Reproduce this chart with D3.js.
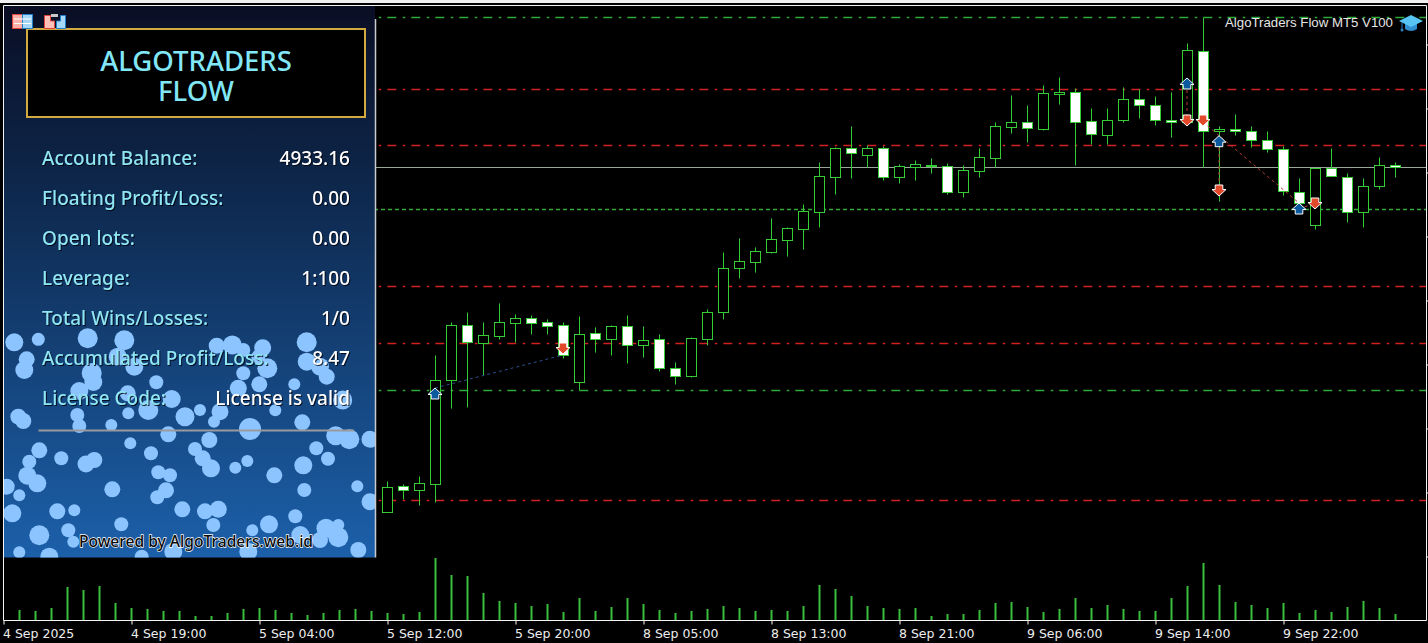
<!DOCTYPE html>
<html><head><meta charset="utf-8">
<script src="https://cdnjs.cloudflare.com/ajax/libs/d3/7.9.0/d3.min.js"></script>
<style>html,body{margin:0;padding:0;background:#000;overflow:hidden}svg{display:block}</style>
</head><body><div id="c"></div>
<script>
// ---------- data ----------
const firstCandle = 23; // earlier candles sit behind the panel
const opens  = [88.3,113.7,110.3,116.3,220.3,274.7,257.3,264.3,277.3,281.7,277.7,274.7,218.3,266.7,261.3,273.7,255.3,260.7,231.7,224.3,261.3,287.7,332.3,338.3,348.3,360.3,371.3,388.3,423.3,451.7,445.3,451.7,423.3,432.7,434.5,433.7,408.3,429.3,442.3,473.3,477.7,471.3,505.7,507.7,478.7,465.3,480.3,500.7,494.7,479.7,478,548.7,468.7,470.7,468.7,459.7,450.7,407.7,374.7,431.7,423.3,387.7,413.7,434.7];
const highs  = [119,116,124,245,277.7,287.7,277.7,296.7,286,285,280.7,277.7,283.7,272.7,275,284.7,273.7,265.7,237.7,262.7,290.7,347.7,361.7,352.7,381.7,373,395.7,437.7,452.7,473.7,455.3,454,435.7,439.7,441.7,436.7,434.7,451.7,477.7,504.7,494.7,515,522.7,511.7,491.7,491.7,512.7,510.7,503.7,507.7,556.7,582.7,473.7,485.7,473.7,468.7,453.7,421.7,431.7,451.7,427.3,421.7,442.7,437.7];
const lows   = [88.3,101,95,98.3,192.3,193.3,225,261,258.3,266.3,266.3,242.3,209.7,248.3,245.3,237.3,243.3,229.3,216.3,223.3,255.3,281,322.3,328.3,347.3,344.3,351.3,373.3,406.3,422.3,432.7,420.3,417.3,420.3,427.3,406.3,403.3,423.3,432.7,467.3,458.3,470.3,496.3,435.3,455.7,455.7,478.3,482.3,475.3,463.3,475,433.3,398.7,464.7,453.3,447.7,404.7,390,370.7,423.7,377.7,373.3,410.7,422.7];
const closes = [112.7,110.3,116.7,219.7,274.7,258.3,264.7,277.7,281.7,277.3,274.3,244.7,265.7,261.3,273.7,255.3,259.7,232.3,224.3,261.7,287.7,331.7,338.7,348.7,360.7,371.7,388.7,423.7,451.7,446.7,451.7,423.3,433.7,435.7,435.5,408.3,429.7,442.7,473.7,477.7,471.7,506.7,507.7,477.7,465.7,479.7,500.7,494.7,479.7,477.7,549.7,468.7,470.7,468.7,459.7,450.7,408.7,396.7,431.7,423.7,387.7,413.7,434.7,433];
const volumes = [10,9,12,33,30,34,17,12,11,9,9,4,4,7,11,12,10,7,5,7,10,11,9,7,6,8,62,45,44,27,19,17,14,16,8,22,9,13,22,16,10,7,9,11,14,12,9,10,9,14,35,31,24,14,12,11,12,4,6,6,10,17,18,13,8,11,22,12,15,11,9,9,22,34,57,35,18,15,12,17,7,10,8,13,19,12,6];
const levelPrices = [583,511,455.5,314,257,210,100];
const levelKinds  = ["g","r","r","r","r","g","r"];
const lastPrice = 433;
const stopPrice = 391;
const tickIndex  = [-1,7,15,23,31,39,47,55,63,71,79];
const tickLabels = ["4 Sep 2025","4 Sep 19:00","5 Sep 04:00","5 Sep 12:00","5 Sep 20:00","8 Sep 05:00","8 Sep 13:00","8 Sep 21:00","9 Sep 06:00","9 Sep 14:00","9 Sep 22:00"];
const priceTicks = [556,492,428,364,300,236,172,108,44];
const buyIndex  = [26,73,75,80];
const buyPrice  = [206,516,458.3,391];
const sellIndex = [34,73,74,75,81];
const sellPrice = [252,480,480,410,397];
const tradeFrom = [[26,212,"b"],[73,516,"r"],[74,478,"r"],[75,458,"r"],[80,391,"r"]];
const tradeTo   = [[34,245],[73,480],[80,397],[75,410],[81,397]];
const panelLabels = ["Account Balance:","Floating Profit/Loss:","Open lots:","Leverage:","Total Wins/Losses:","Accumulated Profit/Loss:","License Code:"];
const panelValues = ["4933.16","0.00","0.00","1:100","1/0","8.47","License is valid"];
const bubbles = [[14.3,342.3,9],[38.3,339.3,6.5],[87.7,338.3,10],[124.3,340.3,10],[26.7,359.3,8],[24.3,370,9],[91.7,373,10],[93.3,382,9],[134.3,366.7,9],[117.7,356.7,9],[156.3,382.3,7],[79.3,391,9],[127.7,393.3,8],[171.7,399,9],[148.3,410,10],[18.3,416.7,8],[23.3,421,8],[77.3,415,7],[128.3,413.3,6],[79.3,426,7],[111.3,425,6],[185,416.7,9.5],[168.3,434.3,8],[130.3,443.3,6],[39.3,450.3,8],[151,453.3,7],[61.3,458.3,7],[94.3,460,8],[86,464,8.5],[29.3,461.7,7],[27.3,475.7,9],[37.3,483.3,9],[158.3,472.3,7],[170,475.3,7],[6.7,486.7,8],[19.3,495.3,6],[112.3,489.3,8],[166,490.3,8],[157.3,497.3,7],[12.3,513.3,9],[57.3,511.3,8],[74.3,510.3,6],[182.3,509.3,8],[121.3,524.3,7],[68.3,530.3,7],[39.3,535.3,10],[73.3,541.7,6],[19.3,552.3,6],[49.3,556.7,9],[141.7,556.7,7],[173.3,551.7,9],[216.7,345.7,8],[232.3,345,9.5],[243.3,350,7],[262.7,347.7,8.5],[258.3,356.7,7],[267.3,368.3,10],[306.7,342.3,10],[306.7,361.7,9],[320,366.7,9],[326.7,376.7,8],[243.3,373.3,7],[259.3,384.3,8],[294.3,384.3,6],[238.3,388.3,8.5],[200,410,6],[342.7,400,9.5],[220,411.7,8.5],[214,421.7,6],[275.3,410.3,6],[302.3,422.3,8],[250,429,11],[335.7,435.7,9.5],[349.3,439.3,10],[370,439.3,8.5],[209.3,440,8],[195,449,7],[202.7,458.3,8],[211,468.3,9],[316.3,448.3,7],[328,458.7,7],[247.3,461,6],[235.3,467.7,6],[303.3,465.3,9],[274.3,475.3,8],[304.3,490,7],[357.3,486.3,6],[370,501.7,8.5],[205,511.3,8],[218.3,509.3,8.5],[213.3,525,7],[269,524.3,9],[295.3,516.3,7],[252.3,530.3,6],[326,528.3,9.5],[338.3,525,6],[338.3,537.3,10],[320,540,8],[300.3,535,9],[358.3,550,8],[248.3,551.7,9]];

// ---------- scales ----------
const W = 1428, H = 643;
const x = d3.scaleLinear().domain([0, 86]).range([19, 1395]);
const y = d3.scaleLinear().domain([0, 600]).range([600, 0]);
const vBase = 620;
const v = d3.scaleLinear().domain([0, 62]).range([vBase, vBase - 62]);
const px = i => Math.round(x(i)) + 0.5;
const py = p => Math.round(y(p)) + 0.5;
const GREEN = "#35cc35";

const svg = d3.select("#c").append("svg").attr("width", W).attr("height", H);
const defs = svg.append("defs");
const grad = defs.append("linearGradient").attr("id", "pg").attr("x1", 0).attr("x2", 0).attr("y1", 0).attr("y2", 1);
grad.append("stop").attr("offset", 0).attr("stop-color", "#0a0e24");
grad.append("stop").attr("offset", 0.3).attr("stop-color", "#0d2548");
grad.append("stop").attr("offset", 1).attr("stop-color", "#1c60aa");
defs.append("clipPath").attr("id", "pc").append("rect").attr("x", 4).attr("y", 6).attr("width", 371).attr("height", 551.5);

svg.append("rect").attr("width", W).attr("height", H).attr("fill", "#000");
svg.append("rect").attr("width", W).attr("height", 3).attr("fill", "#f0f0f0");

// ---------- price level lines ----------
const dashDot = "9 6.5 2.5 6";
svg.append("g").selectAll("line").data(levelPrices).join("line")
  .attr("x1", 3.3).attr("x2", 1426)
  .attr("y1", d => py(d)).attr("y2", d => py(d))
  .attr("stroke", (d, i) => levelKinds[i] === "r" ? "#d02020" : "#30a838")
  .attr("stroke-width", 1.3)
  .attr("stroke-dasharray", dashDot);
svg.append("line").attr("x1", 3).attr("x2", 1426).attr("y1", py(stopPrice)).attr("y2", py(stopPrice))
  .attr("stroke", "#35a83a").attr("stroke-width", 1.3).attr("stroke-dasharray", "4 3");
svg.append("line").attr("x1", 3).attr("x2", 1426).attr("y1", py(lastPrice)).attr("y2", py(lastPrice))
  .attr("stroke", "#9aa89a");

// ---------- candles ----------
const idx = d3.range(opens.length);
const cg = svg.append("g");
cg.selectAll("line").data(idx).join("line")
  .attr("x1", d => px(d + firstCandle)).attr("x2", d => px(d + firstCandle))
  .attr("y1", d => py(highs[d])).attr("y2", d => py(lows[d]))
  .attr("stroke", GREEN);
cg.selectAll("rect").data(idx).join("rect")
  .attr("x", d => px(d + firstCandle) - 5)
  .attr("width", 10)
  .attr("y", d => py(Math.max(opens[d], closes[d])))
  .attr("height", d => Math.max(1, py(Math.min(opens[d], closes[d])) - py(Math.max(opens[d], closes[d]))))
  .attr("fill", d => closes[d] < opens[d] ? "#fff" : "#000")
  .attr("stroke", GREEN);

// ---------- trades ----------
const tg = svg.append("g");
tg.selectAll("line").data(tradeFrom).join("line")
  .attr("x1", d => x(d[0])).attr("y1", d => y(d[1]))
  .attr("x2", (d, i) => x(tradeTo[i][0])).attr("y2", (d, i) => y(tradeTo[i][1]))
  .attr("stroke", d => d[2] === "b" ? "#2c4f8c" : "#b03a30")
  .attr("stroke-dasharray", "3 3");
const upArrow = "M0,-6 L7,0.5 L3.8,0.5 L3.8,5 L-3.8,5 L-3.8,0.5 L-7,0.5 Z";
const downArrow = "M0,6 L7,-0.5 L3.8,-0.5 L3.8,-5 L-3.8,-5 L-3.8,-0.5 L-7,-0.5 Z";
tg.append("g").selectAll("path").data(buyIndex).join("path")
  .attr("d", upArrow).attr("fill", "#0b5a9e").attr("stroke", "#fff").attr("stroke-width", 1)
  .attr("transform", (d, i) => `translate(${x(d)},${y(buyPrice[i])})`);
tg.append("g").selectAll("path").data(sellIndex).join("path")
  .attr("d", downArrow).attr("fill", "#e2492a").attr("stroke", "#fff").attr("stroke-width", 1)
  .attr("transform", (d, i) => `translate(${x(d)},${y(sellPrice[i])})`);

// ---------- volumes ----------
svg.append("g").selectAll("rect").data(volumes).join("rect")
  .attr("x", (d, i) => Math.round(x(i)) - 0.5).attr("width", 2)
  .attr("y", d => v(d)).attr("height", d => vBase - v(d))
  .attr("fill", "#38c03c");

// ---------- axes & frame ----------
const xAxis = d3.axisBottom(d3.scaleLinear().domain([-1, 86]).range([x(-1), x(86)]))
  .tickValues(tickIndex).tickFormat((d, i) => tickLabels[i]).tickSize(4).tickPadding(5);
const ax = svg.append("g").attr("transform", `translate(0.5,${vBase + 0.5})`).call(xAxis);
ax.select(".domain").remove();
ax.selectAll("line").attr("stroke", "#fff");
ax.selectAll("text").attr("text-anchor", "start").attr("fill", "#eee")
  .attr("font-family", "'DejaVu Sans',sans-serif").attr("font-size", 12.5).attr("dx", -1);
const frame = svg.append("g").attr("stroke", "#f4f4f4").attr("fill", "none");
frame.append("path").attr("d", `M3.5,${vBase + 0.5} V5.5 H1426.5 V${vBase + 0.5} H3.5`);
const yAxis = d3.axisRight(y).tickValues(priceTicks).tickFormat("").tickSize(2);
const ay = svg.append("g").attr("transform", "translate(1426.5,0.5)").call(yAxis);
ay.select(".domain").remove();
ay.selectAll("line").attr("stroke", "#fff");

// ---------- chart caption ----------
svg.append("text").attr("x", 1225).attr("y", 27).attr("fill", "#e6e6e6")
  .attr("font-family", "'Liberation Sans',sans-serif").attr("font-size", 13)
  .attr("textLength", 168).attr("lengthAdjust", "spacingAndGlyphs").text("AlgoTraders Flow MT5 V100");
const cap = svg.append("g");
cap.append("path").attr("d", "M1405,23 L1405,29 Q1411,33 1417,29 L1417,23 Z").attr("fill", "#2f8fd0");
cap.append("path").attr("d", "M1399,21 L1411,15 L1423,21 L1411,27 Z").attr("fill", "#58c4f4");
cap.append("line").attr("x1", 1402).attr("x2", 1402).attr("y1", 22).attr("y2", 29).attr("stroke", "#2a7fc0");
cap.append("circle").attr("cx", 1402).attr("cy", 30).attr("r", 1.5).attr("fill", "#2a7fc0");

// ---------- panel ----------
const panel = svg.append("g");
panel.append("rect").attr("x", 4).attr("y", 6).attr("width", 371).attr("height", 551.5).attr("fill", "url(#pg)");
panel.append("g").attr("clip-path", "url(#pc)").selectAll("circle").data(bubbles).join("circle")
  .attr("cx", d => d[0]).attr("cy", d => d[1]).attr("r", d => d[2]).attr("fill", "#8cc4ff");
panel.append("line").attr("x1", 375.5).attr("x2", 375.5).attr("y1", 19).attr("y2", 557.5)
  .attr("stroke", "#c8ccd0").attr("stroke-width", 1.5);
panel.append("rect").attr("x", 27).attr("y", 29).attr("width", 338).attr("height", 88)
  .attr("fill", "#000").attr("stroke", "#d2aa40").attr("stroke-width", 2);
const FONT = "'Noto Sans','Open Sans',sans-serif";
panel.selectAll("text.t").data(["ALGOTRADERS", "FLOW"]).join("text").attr("class", "t")
  .attr("x", 196).attr("y", (d, i) => 71 + i * 30).attr("text-anchor", "middle")
  .attr("font-family", FONT).attr("font-size", 27.5).attr("font-weight", 500).attr("fill", "#82e8f8").text(d => d);
const shadow = "drop-shadow(1px 1px 0.5px rgba(0,0,10,.8))";
panel.selectAll("text.l").data(panelLabels).join("text").attr("class", "l")
  .attr("x", 42).attr("y", (d, i) => 164.5 + i * 40)
  .attr("font-family", FONT).attr("font-size", 19).attr("font-weight", 500).attr("fill", "#8fe6f4")
  .style("filter", shadow).text(d => d);
panel.selectAll("text.v").data(panelValues).join("text").attr("class", "v")
  .attr("x", 350).attr("y", (d, i) => 164.5 + i * 40).attr("text-anchor", "end")
  .attr("font-family", FONT).attr("font-size", 19).attr("font-weight", 500).attr("fill", "#fff")
  .style("filter", shadow).text(d => d);
panel.append("line").attr("x1", 38.5).attr("x2", 354).attr("y1", 430.5).attr("y2", 430.5)
  .attr("stroke", "#9a9a9c").attr("stroke-width", 2);
panel.append("text").attr("x", 79).attr("y", 547).attr("font-family", FONT).attr("font-size", 15.6).attr("font-weight", 500)
  .attr("fill", "#0a0a0a").attr("stroke", "#fff").attr("stroke-width", 1.3).attr("paint-order", "stroke")
  .text("Powered by AlgoTraders.web.id");

// ---------- toolbar icons ----------
const ic = svg.append("g");
ic.append("rect").attr("x", 12.5).attr("y", 14.5).attr("width", 10).attr("height", 14).attr("fill", "#ffb0a8").attr("stroke", "#e0443c");
ic.append("rect").attr("x", 22.5).attr("y", 14.5).attr("width", 10).attr("height", 14).attr("fill", "#a8d8f8").attr("stroke", "#2080c8");
ic.selectAll("line").data([19, 23.5]).join("line").attr("x1", 14).attr("x2", 31).attr("y1", d => d).attr("y2", d => d).attr("stroke", "#fff");
ic.append("path").attr("d", "M44.5,15.5 H50.5 V21 H54.5 V28.5 H44.5 Z").attr("fill", "#ffc0b8").attr("stroke", "#e0443c");
ic.append("path").attr("d", "M56.5,21 H60.5 V15.5 H65.5 V28.5 H56.5 Z").attr("fill", "#a8d8f8").attr("stroke", "#2080c8");
ic.append("rect").attr("x", 51).attr("y", 14).attr("width", 7).attr("height", 3).attr("fill", "#c8c8c8");
</script></body></html>
